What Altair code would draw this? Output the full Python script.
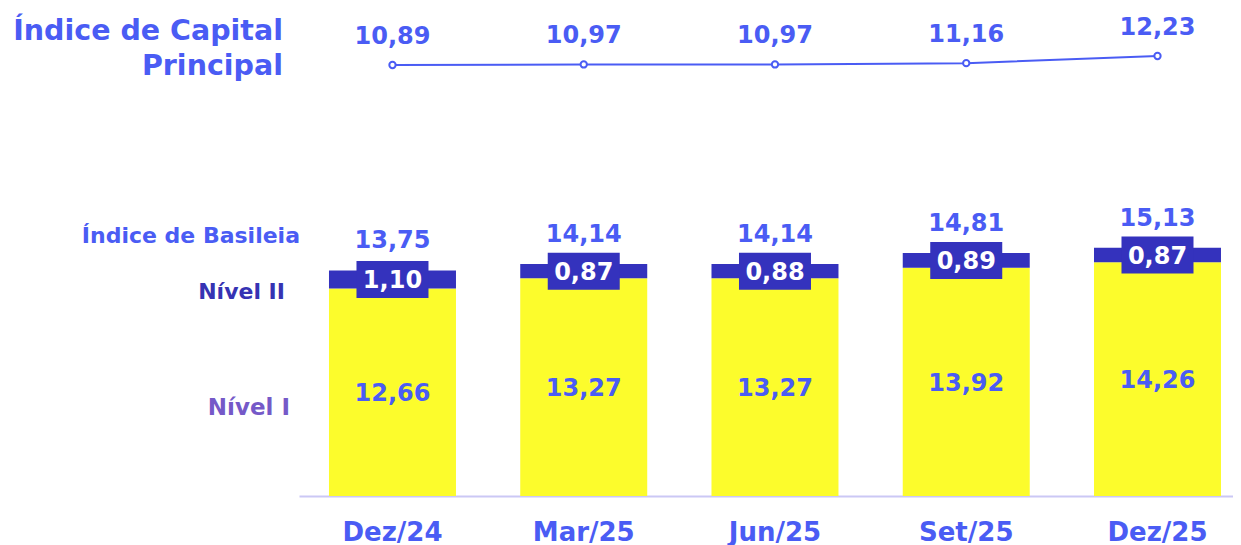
import altair as alt
import pandas as pd

# ---- data -------------------------------------------------------------
periodos = ["Dez/24", "Mar/25", "Jun/25", "Set/25", "Dez/25"]
nivel1 = [12.66, 13.27, 13.27, 13.92, 14.26]
nivel2 = [1.10, 0.87, 0.88, 0.89, 0.87]
basileia = [13.75, 14.14, 14.14, 14.81, 15.13]
capital = [10.89, 10.97, 10.97, 11.16, 12.23]

left_labels = ["Índice de Capital", "Principal", "Índice de Basileia", "Nível II", "Nível I"]


def br(v):
    return f"{v:.2f}".replace(".", ",")


df = pd.DataFrame({
    "periodo": periodos,
    "nivel1": nivel1,
    "nivel2": nivel2,
    "basileia": basileia,
    "capital": capital,
    "n1_lbl": [br(v) for v in nivel1],
    "n2_lbl": [br(v) for v in nivel2],
    "bas_lbl": [br(v) for v in basileia],
    "cap_lbl": [br(v) for v in capital],
})

# ---- style ------------------------------------------------------------
FONT = "DejaVu Sans"
BLUE = "#4a5cf4"
NAVY = "#3432bd"
NAVY_TXT = "#3633b3"
YELLOW = "#fcfc2c"
PURPLE = "#7559c8"
AXIS = "#cbc8f5"

PLOT_W = 934
PLOT_H = 488

x_enc = alt.X(
    "periodo:N",
    sort=periodos,
    title=None,
    scale=alt.Scale(paddingInner=0.336, paddingOuter=0.1098, align=0.714),
    axis=alt.Axis(
        labelFont=FONT, labelFontSize=26, labelFontWeight="bold", labelColor=BLUE,
        labelAngle=0, labelPadding=23, ticks=False, tickSize=0,
        domainColor=AXIS, domainWidth=2, grid=False,
    ),
)

yscale = alt.Scale(domain=[0, 29.756], nice=False, zero=False)

base = alt.Chart(df)

yellow = base.mark_bar(color=YELLOW).encode(
    x=x_enc,
    y=alt.Y("zero:Q", scale=yscale, axis=None),
    y2="nivel1:Q",
).transform_calculate(zero="0")

navy = base.mark_bar(color=NAVY).encode(
    x=x_enc,
    y=alt.Y("nivel1:Q", scale=yscale, axis=None),
    y2="basileia:Q",
)

box = base.transform_calculate(
    lo="(datum.nivel1 + datum.basileia) / 2 - 1.13",
    hi="(datum.nivel1 + datum.basileia) / 2 + 1.13",
).mark_bar(color=NAVY, width=72).encode(
    x=x_enc,
    y=alt.Y("lo:Q", scale=yscale, axis=None),
    y2="hi:Q",
)

n2_text = base.transform_calculate(
    mid="(datum.nivel1 + datum.basileia) / 2",
).mark_text(font=FONT, fontSize=24, fontWeight="bold", color="white",
            baseline="middle", dy=1.5).encode(
    x=x_enc,
    y=alt.Y("mid:Q", scale=yscale, axis=None),
    text="n2_lbl:N",
)

bas_text = base.mark_text(font=FONT, fontSize=24, fontWeight="bold", color=BLUE,
                          baseline="alphabetic", dy=-22).encode(
    x=x_enc,
    y=alt.Y("basileia:Q", scale=yscale, axis=None),
    text="bas_lbl:N",
)

n1_text = base.transform_calculate(
    mid="datum.nivel1 / 2",
).mark_text(font=FONT, fontSize=24, fontWeight="bold", color=BLUE,
            baseline="middle", dy=2).encode(
    x=x_enc,
    y=alt.Y("mid:Q", scale=yscale, axis=None),
    text="n1_lbl:N",
)

bars = alt.layer(yellow, navy, box, n2_text, bas_text, n1_text)

# ---- top line (own scale) --------------------------------------------
lscale = alt.Scale(domain=[-53.25, 19.37], nice=False, zero=False)

line = base.mark_line(color=BLUE, strokeWidth=2).encode(
    x=x_enc,
    y=alt.Y("capital:Q", scale=lscale, axis=None),
)
pts = base.mark_point(filled=True, fill="white", stroke=BLUE, strokeWidth=2,
                      size=40, opacity=1).encode(
    x=x_enc,
    y=alt.Y("capital:Q", scale=lscale, axis=None),
)
cap_text = base.mark_text(font=FONT, fontSize=24, fontWeight="bold", color=BLUE,
                          baseline="alphabetic", dy=-21).encode(
    x=x_enc,
    y=alt.Y("capital:Q", scale=lscale, axis=None),
    text="cap_lbl:N",
)
top = alt.layer(line, pts, cap_text)

# ---- left annotations -------------------------------------------------
def ann(i, xpx, ypx, size, color):
    return alt.Chart(pd.DataFrame({"t": [left_labels[i]]})).mark_text(
        font=FONT, fontSize=size, fontWeight="bold", color=color,
        align="right", baseline="alphabetic",
    ).encode(x=alt.value(xpx), y=alt.value(ypx), text="t:N")


anns = alt.layer(
    ann(0, -16, 31.5, 28.5, BLUE),
    ann(1, -16, 67, 28.5, BLUE),
    ann(2, 1, 234.7, 22, BLUE),
    ann(3, -14, 291, 22, NAVY_TXT),
    ann(4, -9, 407, 23, PURPLE),
)

chart = alt.layer(bars, top, anns).resolve_scale(y="independent").properties(
    width=PLOT_W,
    height=PLOT_H,
    autosize=alt.AutoSizeParams(type="none"),
    padding={"left": 291, "top": 0, "right": 0, "bottom": 49},
).configure_view(stroke=None)

chart.save("out.html", embed_options={"renderer": "svg", "actions": False})
